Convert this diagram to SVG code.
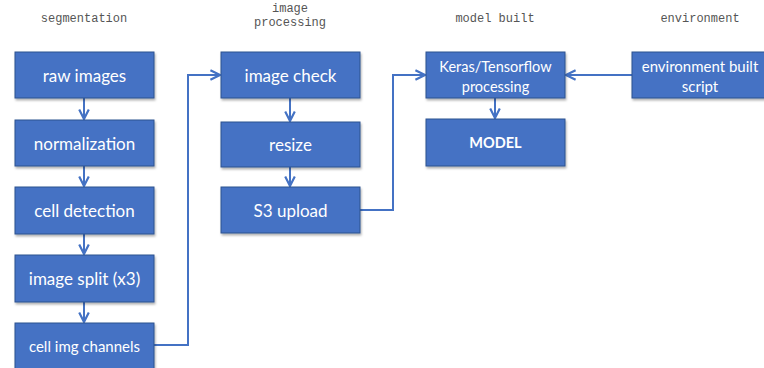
<svg xmlns="http://www.w3.org/2000/svg" width="764" height="368" viewBox="0 0 764 368">
  <style>
    .box { fill: #4472C4; stroke: #2F528F; stroke-width: 1; filter: url(#shadow); }
    .lbl { fill: #ffffff; font-family: Lato, "Open Sans", "Liberation Sans", sans-serif; font-size: 17px; text-anchor: middle; dominant-baseline: central; }
    .sm { font-size: 15px; }
    .md { font-size: 14.5px; }
    .bold { font-weight: bold; }
    .hdr { fill: #555555; font-family: "Liberation Mono", "DejaVu Sans Mono", monospace; font-size: 12px; text-anchor: middle; }
    .conn { fill: none; stroke: #4472C4; stroke-width: 2; marker-end: url(#arrow); }
  </style>
  <defs>
    <filter id="shadow" x="-10%" y="-10%" width="130%" height="140%">
      <feDropShadow dx="1" dy="2" stdDeviation="1.2" flood-color="#000000" flood-opacity="0.3"/>
    </filter>
    <marker id="arrow" viewBox="0 0 10 10" refX="9" refY="5" markerWidth="6" markerHeight="6" orient="auto" markerUnits="strokeWidth">
      <path d="M1,1 L9,5 L1,9" fill="none" stroke="#4472C4" stroke-width="1.8"/>
    </marker>
  </defs>
  <rect width="764" height="368" fill="#ffffff"/>

  <!-- column headers -->
  <g id="headers">
    <text class="hdr" x="84" y="22">segmentation</text>
    <text class="hdr" x="290" y="12">image</text>
    <text class="hdr" x="290" y="26">processing</text>
    <text class="hdr" x="495" y="22">model built</text>
    <text class="hdr" x="700" y="22">environment</text>
  </g>

  <!-- connectors -->
  <g id="connectors">
    <line class="conn" x1="84" y1="98" x2="84" y2="119"/>
    <line class="conn" x1="84" y1="166" x2="84" y2="186"/>
    <line class="conn" x1="84" y1="234" x2="84" y2="254"/>
    <line class="conn" x1="84" y1="302" x2="84" y2="322"/>
    <polyline class="conn" points="154,345 188,345 188,75 220,75"/>
    <line class="conn" x1="290" y1="98" x2="290" y2="121"/>
    <line class="conn" x1="290" y1="167" x2="290" y2="186"/>
    <polyline class="conn" points="360,210 393,210 393,75 425,75"/>
    <line class="conn" x1="632" y1="75" x2="566" y2="75"/>
    <line class="conn" x1="495" y1="98" x2="495" y2="118"/>
  </g>

  <!-- segmentation column -->
  <g id="raw-images">
    <rect class="box" x="15" y="52" width="139" height="46"/>
    <text class="lbl" x="84.5" y="75">raw images</text>
  </g>
  <g id="normalization">
    <rect class="box" x="15" y="120" width="139" height="46"/>
    <text class="lbl" x="84.5" y="143">normalization</text>
  </g>
  <g id="cell-detection">
    <rect class="box" x="15" y="187" width="139" height="47"/>
    <text class="lbl" x="84.5" y="210.5">cell detection</text>
  </g>
  <g id="image-split">
    <rect class="box" x="15" y="255" width="139" height="47"/>
    <text class="lbl" x="84.5" y="278.5">image split (x3)</text>
  </g>
  <g id="cell-img-channels">
    <rect class="box" x="15" y="323" width="139" height="47"/>
    <text class="lbl sm" x="84.5" y="346">cell img channels</text>
  </g>

  <!-- image processing column -->
  <g id="image-check">
    <rect class="box" x="221" y="52" width="139" height="46"/>
    <text class="lbl" x="290.5" y="75">image check</text>
  </g>
  <g id="resize">
    <rect class="box" x="221" y="122" width="139" height="45"/>
    <text class="lbl" x="290.5" y="144.5">resize</text>
  </g>
  <g id="s3-upload">
    <rect class="box" x="221" y="187" width="139" height="46"/>
    <text class="lbl" x="290.5" y="210">S3 upload</text>
  </g>

  <!-- model built column -->
  <g id="keras-tensorflow">
    <rect class="box" x="426" y="52" width="139" height="46"/>
    <text class="lbl md" x="495.5" y="66">Keras/Tensorflow</text>
    <text class="lbl md" x="495.5" y="86">processing</text>
  </g>
  <g id="model">
    <rect class="box" x="426" y="119" width="139" height="47"/>
    <text class="lbl md bold" x="495.5" y="142.5">MODEL</text>
  </g>

  <!-- environment column -->
  <g id="environment-script">
    <rect class="box" x="632" y="52" width="139" height="46"/>
    <text class="lbl sm" x="700" y="66">environment built</text>
    <text class="lbl sm" x="700" y="86">script</text>
  </g>
</svg>
